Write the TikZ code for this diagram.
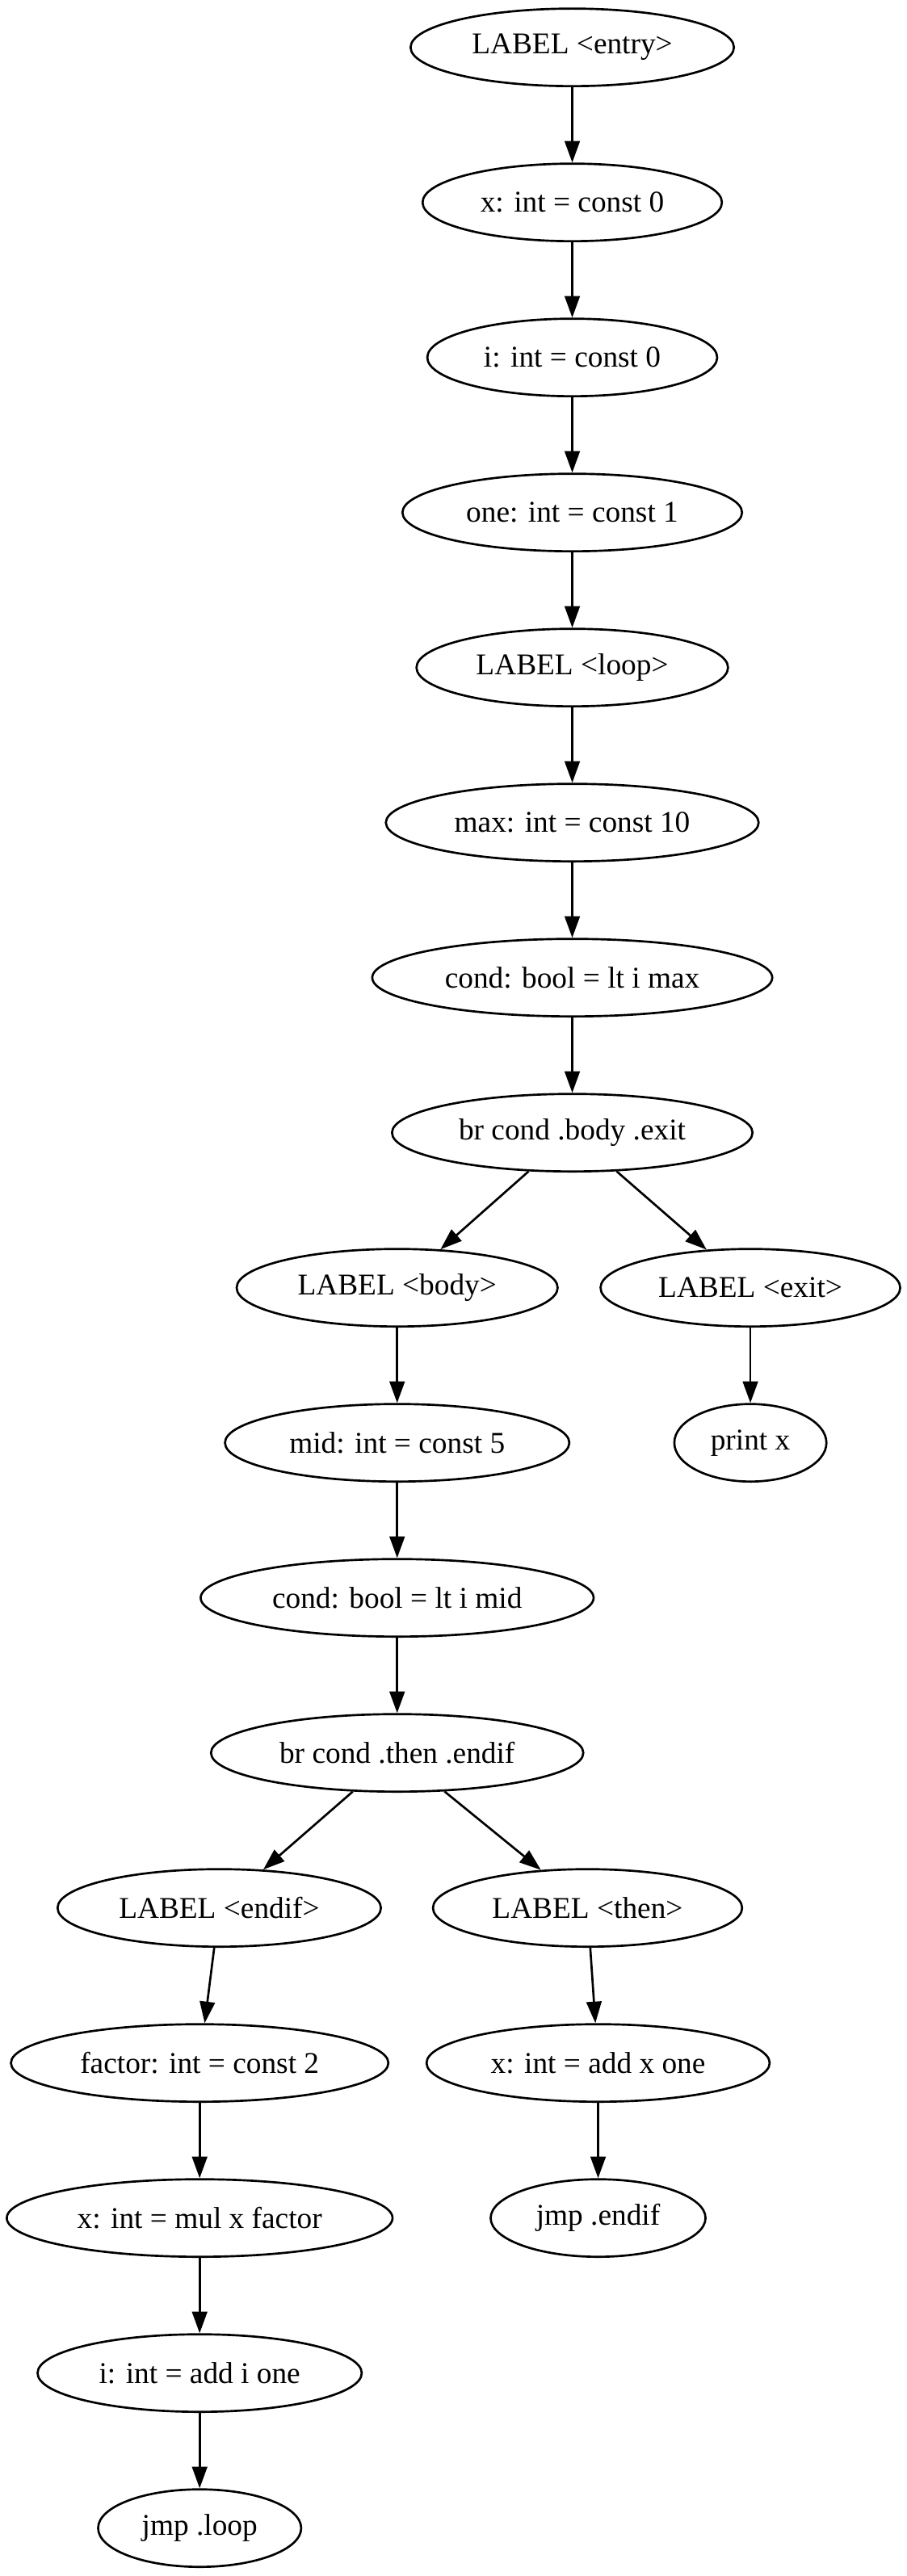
\documentclass[tikz,border=0pt]{standalone}
\usepackage{fontspec}
\setmainfont{Liberation Serif}
\usetikzlibrary{positioning,shapes.geometric,arrows.meta}

\begin{document}
\begin{tikzpicture}[>={Triangle[length=10pt,width=7pt]},line width=1pt,node distance=72pt,on grid,
	instr/.style={draw,ellipse,minimum height=36pt,inner xsep=6.5pt,inner ysep=2pt,font=\fontsize{14pt}{16pt}\selectfont}]
	\useasboundingbox (0,0) rectangle (420.75pt,-1196.25pt);
	\node[instr] (entry) at (265.7pt,-22pt) {LABEL <entry>};
	\node[instr] (x_0) [below=of entry] {x: int = const 0};
	\node[instr] (i_0) [below=of x_0] {i: int = const 0};
	\node[instr] (one) [below=of i_0] {one: int = const 1};
	\node[instr] (loop) [below=of one] {LABEL <loop>};
	\node[instr] (max) [below=of loop] {max: int = const 10};
	\node[instr] (cond_1) [below=of max] {cond: bool = lt i max};
	\node[instr] (br_1) [below=of cond_1] {br cond .body .exit};
	\node[instr] (body) [below left=72pt and 81.3pt of br_1] {LABEL <body>};
	\node[instr] (exit) [below right=72pt and 82.7pt of br_1] {LABEL <exit>};
	\node[instr] (mid) [below=of body] {mid: int = const 5};
	\node[instr] (print) [below=of exit] {print x};
	\node[instr] (cond_2) [below=of mid] {cond: bool = lt i mid};
	\node[instr] (br_2) [below=of cond_2] {br cond .then .endif};
	\node[instr] (endif) [below left=72pt and 82.6pt of br_2] {LABEL <endif>};
	\node[instr] (then) [below right=72pt and 88.4pt of br_2] {LABEL <then>};
	\node[instr] (factor) [below left=72pt and 9.1pt of endif] {factor: int = const 2};
	\node[instr] (x_add) [below right=72pt and 4.9pt of then] {x: int = add x one};
	\node[instr] (x_mul) [below=of factor] {x: int = mul x factor};
	\node[instr] (jmp_endif) [below=of x_add] {jmp .endif};
	\node[instr] (i_add) [below=of x_mul] {i: int = add i one};
	\node[instr] (jmp_loop) [below=of i_add] {jmp .loop};
	\path[->]
	(entry) edge (x_0)
	(x_0) edge (i_0)
	(i_0) edge (one)
	(one) edge (loop)
	(loop) edge (max)
	(max) edge (cond_1)
	(cond_1) edge (br_1)
	(br_1) edge (body)
	(br_1) edge (exit)
	(body) edge (mid)
	(exit) edge (print)
	(mid) edge (cond_2)
	(cond_2) edge (br_2)
	(br_2) edge (endif)
	(br_2) edge (then)
	(endif) edge (factor)
	(then) edge (x_add)
	(factor) edge (x_mul)
	(x_add) edge (jmp_endif)
	(x_mul) edge (i_add)
	(i_add) edge (jmp_loop);
\end{tikzpicture}
\end{document}
